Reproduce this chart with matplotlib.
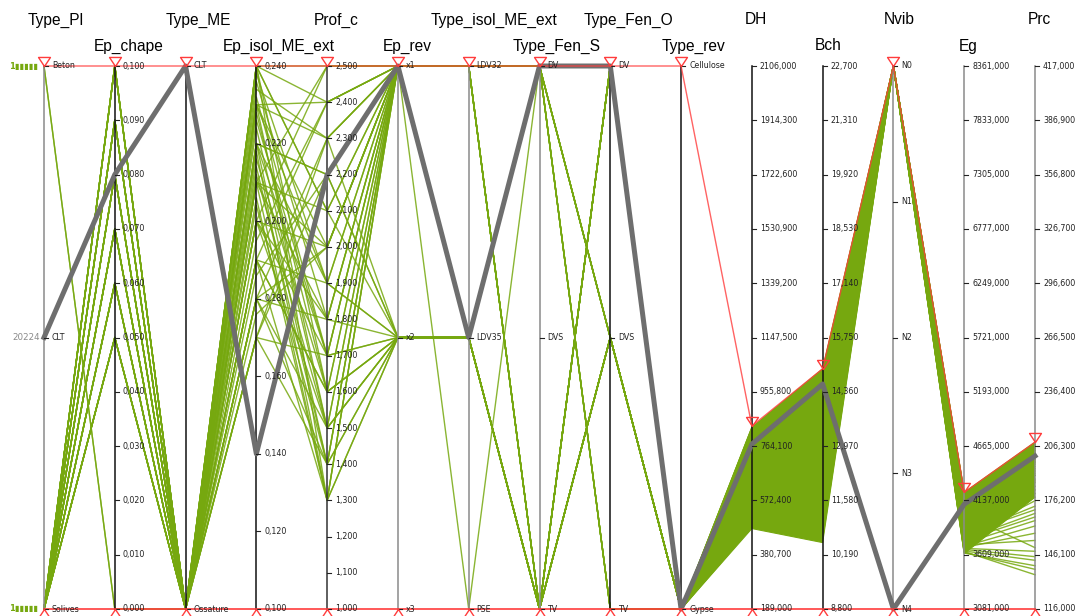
import matplotlib
matplotlib.use('Agg')
import matplotlib.pyplot as plt
import matplotlib.transforms as mtrans
from matplotlib.path import Path

# ---- axes, left to right ----
axis_names = ['Type_Pl', 'Ep_chape', 'Type_ME', 'Ep_isol_ME_ext', 'Prof_c', 'Ep_rev',
              'Type_isol_ME_ext', 'Type_Fen_S', 'Type_Fen_O', 'Type_rev',
              'DH', 'Bch', 'Nvib', 'Eg', 'Prc']

# categorical axes (top -> bottom)
type_pl_cats = ['Beton', 'CLT', 'Solives']
type_me_cats = ['CLT', 'Ossature']
ep_rev_cats = ['x1', 'x2', 'x3']
type_isol_cats = ['LDV32', 'LDV35', 'PSE']
fen_s_cats = ['DV', 'DVS', 'TV']
fen_o_cats = ['DV', 'DVS', 'TV']
type_rev_cats = ['Cellulose', 'Gypse']
nvib_cats = ['N0', 'N1', 'N2', 'N3', 'N4']

# numeric axes ticks (bottom -> top)
ep_chape_ticks = [0.000, 0.010, 0.020, 0.030, 0.040, 0.050, 0.060, 0.070, 0.080, 0.090, 0.100]
ep_isol_ticks = [0.100, 0.120, 0.140, 0.160, 0.180, 0.200, 0.220, 0.240]
prof_c_ticks = [1.0, 1.1, 1.2, 1.3, 1.4, 1.5, 1.6, 1.7, 1.8, 1.9, 2.0, 2.1, 2.2, 2.3, 2.4, 2.5]
dh_ticks = [189.0, 380.7, 572.4, 764.1, 955.8, 1147.5, 1339.2, 1530.9, 1722.6, 1914.3, 2106.0]
bch_ticks = [8.80, 10.19, 11.58, 12.97, 14.36, 15.75, 17.14, 18.53, 19.92, 21.31, 22.70]
eg_ticks = [3081, 3609, 4137, 4665, 5193, 5721, 6249, 6777, 7305, 7833, 8361]
prc_ticks = [116.0, 146.1, 176.2, 206.3, 236.4, 266.5, 296.6, 326.7, 356.8, 386.9, 417.0]

scales = {
    'Type_Pl': type_pl_cats, 'Ep_chape': ep_chape_ticks, 'Type_ME': type_me_cats,
    'Ep_isol_ME_ext': ep_isol_ticks, 'Prof_c': prof_c_ticks, 'Ep_rev': ep_rev_cats,
    'Type_isol_ME_ext': type_isol_cats, 'Type_Fen_S': fen_s_cats, 'Type_Fen_O': fen_o_cats,
    'Type_rev': type_rev_cats, 'DH': dh_ticks, 'Bch': bch_ticks, 'Nvib': nvib_cats,
    'Eg': eg_ticks, 'Prc': prc_ticks,
}

# ---- green (selected) records ----
g_type_pl = ['Solives', 'Solives', 'Solives', 'Solives', 'Solives', 'Solives', 'Beton', 'Solives',
             'Solives', 'Solives', 'Solives', 'Solives', 'Solives', 'Solives', 'Solives', 'Solives',
             'Solives', 'Solives', 'Solives', 'Beton', 'Solives', 'Solives', 'Solives', 'Solives',
             'Solives', 'Solives', 'Solives', 'Solives', 'Solives', 'Solives', 'Solives', 'Solives',
             'Solives', 'Solives', 'Solives', 'Solives', 'Solives', 'Solives', 'Solives', 'Solives',
             'Solives', 'Solives', 'Solives', 'Solives', 'Solives', 'Solives', 'Solives', 'Solives',
             'Solives', 'Solives', 'Solives', 'Solives', 'Solives', 'Solives', 'Solives', 'Solives']
g_ep_chape = [0.10, 0.09, 0.08, 0.07, 0.06, 0.05, 0.00, 0.10, 0.09, 0.08, 0.07, 0.06, 0.05, 0.10,
              0.09, 0.08, 0.07, 0.06, 0.05, 0.00, 0.10, 0.09, 0.08, 0.07, 0.06, 0.05, 0.10, 0.09,
              0.08, 0.07, 0.06, 0.05, 0.10, 0.09, 0.08, 0.07, 0.06, 0.05, 0.10, 0.09,
              0.10, 0.09, 0.08, 0.07, 0.06, 0.05, 0.10, 0.09, 0.08, 0.07, 0.06, 0.05, 0.10, 0.09,
              0.08, 0.07]
g_type_me = ['Ossature'] * 56
g_ep_isol = [0.240, 0.240, 0.230, 0.220, 0.210, 0.200, 0.190, 0.180, 0.170, 0.240, 0.230, 0.220,
             0.210, 0.200, 0.190, 0.180, 0.170, 0.240, 0.230, 0.220, 0.210, 0.200, 0.190, 0.180,
             0.170, 0.240, 0.230, 0.220, 0.210, 0.200, 0.190, 0.180, 0.170, 0.240, 0.230, 0.220,
             0.210, 0.200, 0.190, 0.180,
             0.236, 0.228, 0.214, 0.206, 0.195, 0.186, 0.176, 0.232, 0.224, 0.218, 0.238, 0.226,
             0.212, 0.204, 0.234, 0.216]
g_prof_c = [2.5, 2.4, 2.3, 2.2, 2.1, 2.0, 1.9, 1.8, 1.7, 1.6, 1.5, 1.4, 1.3, 2.5, 2.4, 2.3, 2.2,
            2.1, 2.0, 1.9, 1.8, 1.7, 1.6, 1.5, 1.4, 1.3, 2.4, 2.2, 2.0, 1.8, 1.6, 1.4, 2.3, 2.1,
            1.9, 1.7, 2.5, 1.5, 1.3, 2.0,
            1.8, 1.6, 1.4, 1.3, 2.4, 2.2, 2.0, 1.7, 1.5, 1.3, 1.9, 1.7, 1.5, 1.4, 2.3, 1.6]
g_ep_rev = ['x1', 'x1', 'x1', 'x1', 'x1', 'x1', 'x2', 'x2', 'x2', 'x2', 'x1', 'x2', 'x2', 'x1',
            'x1', 'x2', 'x1', 'x2', 'x1', 'x1', 'x1', 'x1', 'x1', 'x2', 'x1', 'x1', 'x1', 'x2',
            'x1', 'x1', 'x2', 'x1', 'x1', 'x1', 'x2', 'x1', 'x1', 'x2', 'x2', 'x1',
            'x1', 'x1', 'x2', 'x1', 'x1', 'x2', 'x1', 'x1', 'x2', 'x1', 'x1', 'x2', 'x1', 'x1',
            'x1', 'x2']
g_type_isol = ['LDV32', 'LDV32', 'LDV32', 'LDV32', 'LDV32', 'LDV32', 'LDV35', 'LDV35', 'LDV35',
               'LDV35', 'LDV32', 'LDV35', 'LDV35', 'PSE', 'LDV32', 'LDV35', 'LDV32', 'LDV35',
               'LDV32', 'LDV32', 'LDV32', 'LDV32', 'LDV32', 'LDV35', 'LDV32', 'LDV32', 'LDV32',
               'LDV35', 'LDV32', 'LDV32', 'LDV35', 'LDV32', 'LDV32', 'LDV32', 'LDV35', 'LDV32',
               'LDV32', 'LDV35', 'LDV35', 'LDV32',
               'LDV32', 'LDV32', 'LDV35', 'LDV32', 'LDV32', 'LDV35', 'LDV32', 'LDV32', 'LDV35',
               'LDV32', 'LDV32', 'LDV35', 'LDV32', 'LDV32', 'LDV32', 'LDV35']
g_fen_s = ['DV', 'DV', 'DV', 'TV', 'TV', 'DV', 'TV', 'TV', 'TV', 'TV', 'DV', 'TV', 'TV', 'DV',
           'DV', 'TV', 'TV', 'TV', 'DV', 'DV', 'DV', 'TV', 'DV', 'TV', 'DV', 'TV', 'DV', 'TV',
           'DV', 'TV', 'TV', 'DV', 'DV', 'TV', 'TV', 'DV', 'DV', 'TV', 'TV', 'DV',
           'DV', 'TV', 'TV', 'DV', 'DV', 'TV', 'TV', 'DV', 'TV', 'DV', 'TV', 'TV', 'DV', 'DV',
           'TV', 'TV']
g_fen_o = ['DV', 'DVS', 'TV', 'DV', 'DVS', 'DV', 'DV', 'DVS', 'DV', 'DVS', 'DVS', 'DV', 'DVS',
           'DV', 'TV', 'DV', 'DVS', 'DV', 'DVS', 'TV', 'DV', 'DV', 'DVS', 'DVS', 'TV', 'DV',
           'DVS', 'DVS', 'DV', 'DVS', 'DV', 'TV', 'DV', 'DVS', 'DV', 'DVS', 'TV', 'DVS', 'DV', 'DV',
           'DVS', 'DV', 'DVS', 'TV', 'DV', 'DV', 'DVS', 'DVS', 'DV', 'DV', 'DVS', 'DVS', 'TV',
           'DVS', 'DV', 'DVS']
g_type_rev = ['Gypse'] * 56
g_dh = [828, 815, 640, 700, 560, 790, 480, 745, 600, 820, 520, 680, 760, 540, 710, 630, 805, 500,
        770, 590, 725, 655, 830, 575, 690, 610, 795, 530, 740, 665, 810, 495, 720, 585, 780, 545,
        705, 625, 800, 560,
        650, 735, 605, 785, 515, 825, 555, 695, 755, 490, 615, 815, 670, 745, 525, 790]
g_bch = [14.9, 13.2, 14.6, 12.4, 13.9, 11.5, 14.3, 10.7, 12.9, 14.0, 11.0, 13.5, 12.0, 14.8, 11.9,
         10.9, 13.7, 12.7, 14.5, 11.2, 13.0, 14.2, 12.2, 13.3, 10.6, 14.7, 12.5, 13.6, 11.6, 14.1,
         12.8, 13.1, 14.4, 11.4, 13.8, 12.3, 14.9, 10.8, 13.4, 12.1,
         13.6, 12.6, 14.35, 11.1, 13.95, 12.05, 14.75, 10.75, 13.25, 12.45, 14.05, 11.35, 13.55,
         12.65, 14.25, 11.75]
g_nvib = ['N0'] * 56
g_eg = [4210, 4150, 3980, 4190, 3700, 4060, 3640, 4110, 3860, 4000, 3625, 3720, 3900, 4170, 3800,
        4140, 3680, 4080, 3760, 3950, 4200, 3640, 3850, 4020, 3730, 4100, 3660, 3990, 4160, 3780,
        3920, 4050, 3690, 4125, 3870, 3630, 4190, 3810, 3970, 4090,
        4030, 3940, 4175, 3705, 3830, 4070, 3645, 4135, 3880, 4010, 3750, 4205, 3935, 4045, 3670,
        4115]
g_prc = [208, 204, 196, 207, 182, 201, 180, 206, 190, 150, 140, 165, 198, 205, 173, 203, 158, 200,
         169, 193, 208, 135, 186, 197, 178, 204, 145, 195, 206, 176, 191, 199, 162, 203, 188, 138,
         207, 171, 194, 201,
         198, 192, 205, 154, 184, 202, 143, 204, 187, 197, 167, 207, 190, 199, 148, 203]

green_cols = [g_type_pl, g_ep_chape, g_type_me, g_ep_isol, g_prof_c, g_ep_rev, g_type_isol,
              g_fen_s, g_fen_o, g_type_rev, g_dh, g_bch, g_nvib, g_eg, g_prc]

# dense green band on the right (Type_rev .. Prc): upper / lower envelope
band_axes = ['Type_rev', 'DH', 'Bch', 'Nvib', 'Eg', 'Prc']
band_hi = ['Gypse', 830, 14.95, 'N0', 4215, 208.5]
band_lo = ['Gypse', 473, 10.5, 'N0', 3620, 178]

# highlighted record (grey)
grey_row = ['CLT', 0.080, 'CLT', 0.140, 2.200, 'x1', 'LDV35', 'DV', 'DV', 'Gypse',
            771, 14.56, 'N4', 4100, 200.8]

# brush limits (red)
filter_top = ['Beton', 0.100, 'CLT', 0.240, 2.500, 'x1', 'LDV32', 'DV', 'DV', 'Cellulose',
              835, 14.95, 'N0', 4215, 208.5]
filter_bottom = ['Solives', 0.000, 'Ossature', 0.100, 1.000, 'x3', 'PSE', 'TV', 'TV', 'Gypse',
                 189.0, 8.80, 'N4', 3081, 116.0]

record_count = '20224'


def ypos(name, v):
    sc = scales[name]
    if isinstance(sc[0], str):
        return 1 - sc.index(v) / (len(sc) - 1)
    return (v - sc[0]) / (sc[-1] - sc[0])


GREEN = '#76a80f'
RED = '#ff3c3c'
GREY = '#6e6e6e'

fig = plt.figure(figsize=(10.78, 6.16), dpi=100)
ax = fig.add_axes([44 / 1078, 7 / 616, 991 / 1078, 543 / 616])
ax.set_xlim(0, len(axis_names) - 1)
ax.set_ylim(0, 1)
ax.axis('off')

PX = (len(axis_names) - 1) / 991.0   # data units per pixel in x
PY = 1 / 543.0                        # data units per pixel in y
xs = list(range(len(axis_names)))

# green band
bx = [axis_names.index(n) for n in band_axes]
hi_y = [ypos(n, v) for n, v in zip(band_axes, band_hi)]
lo_y = [ypos(n, v) for n, v in zip(band_axes, band_lo)]
ax.fill(bx + bx[::-1], hi_y + lo_y[::-1], color=GREEN, lw=0.8, ec=GREEN, zorder=2)

# green records
for i in range(len(g_dh)):
    ys = [ypos(n, col[i]) for n, col in zip(axis_names, green_cols)]
    ax.plot(xs, ys, color=GREEN, lw=1.0, alpha=0.85, zorder=2.1, clip_on=False)

# axes lines
axis_colors = ['#8a8a8a', '#111111', '#111111', '#111111', '#333333', '#8a8a8a', '#8a8a8a',
               '#8a8a8a', '#111111', '#111111', '#111111', '#111111', '#8a8a8a', '#8a8a8a',
               '#8a8a8a']
for x, c in zip(xs, axis_colors):
    ax.plot([x, x], [0, 1], color=c, lw=1.1, zorder=3, clip_on=False)

# grey highlighted record
ax.plot(xs, [ypos(n, v) for n, v in zip(axis_names, grey_row)], color=GREY, lw=3.6,
        solid_joinstyle='round', zorder=4, clip_on=False)

# red brush lines
ax.plot(xs, [ypos(n, v) for n, v in zip(axis_names, filter_top)], color=RED, lw=1,
        alpha=0.8, zorder=5, clip_on=False)
ax.plot(xs, [ypos(n, v) for n, v in zip(axis_names, filter_bottom)], color=RED, lw=1.2,
        zorder=5, clip_on=False)

tri_down = Path([(0, 0), (-0.66, 1), (0.66, 1), (0, 0)], closed=True)
tri_up = Path([(0, 0), (-0.66, -1), (0.66, -1), (0, 0)], closed=True)
for x, n, vt, vb in zip(xs, axis_names, filter_top, filter_bottom):
    ax.plot(x, ypos(n, vt), marker=tri_down, ms=13, mfc='none', mec=RED, mew=1,
            zorder=7, clip_on=False)
    ax.plot(x, ypos(n, vb), marker=tri_up, ms=13, mfc='none', mec=RED, mew=1,
            zorder=7, clip_on=False)

# ticks and labels
for x, n in zip(xs, axis_names):
    sc = scales[n]
    for v in sc:
        y = ypos(n, v)
        if isinstance(v, str):
            lab = v
        else:
            lab = '{:.3f}'.format(v).replace('.', ',')
        ax.plot([x, x + 4 * PX], [y, y], color='#222222', lw=0.8, zorder=6, clip_on=False)
        ax.text(x + 8 * PX, y, lab, fontsize=5.7, family='DejaVu Sans', color='#222222',
                ha='left', va='center', zorder=6, clip_on=False)

# record count and selection markers on the left
ax.text(-4 * PX, ypos('Type_Pl', 'CLT'), record_count, fontsize=6.3, color='#8a8a8a',
        family='DejaVu Sans', ha='right', va='center')
for yv in (1, 0):
    ax.text(-6 * PX, yv, '1▮▮▮▮▮', fontsize=6, color=GREEN, family='DejaVu Sans',
            fontweight='bold', ha='right', va='center')

# axis titles, alternating rows
titles = []
for x, n in zip(xs, axis_names):
    ty = 1 + (66 - 20) * PY if x % 2 == 0 else 1 + (66 - 46) * PY
    t = ax.text(x, ty, n, fontsize=11.2, family='Liberation Sans', ha='center',
                va='center', clip_on=False)
    titles.append(t)
fig.canvas.draw()
for t in titles:
    w = t.get_window_extent().width
    t.set_transform(ax.transData + mtrans.Affine2D().translate(0.2 * w, 0))

fig.savefig('out.png', dpi=100)
